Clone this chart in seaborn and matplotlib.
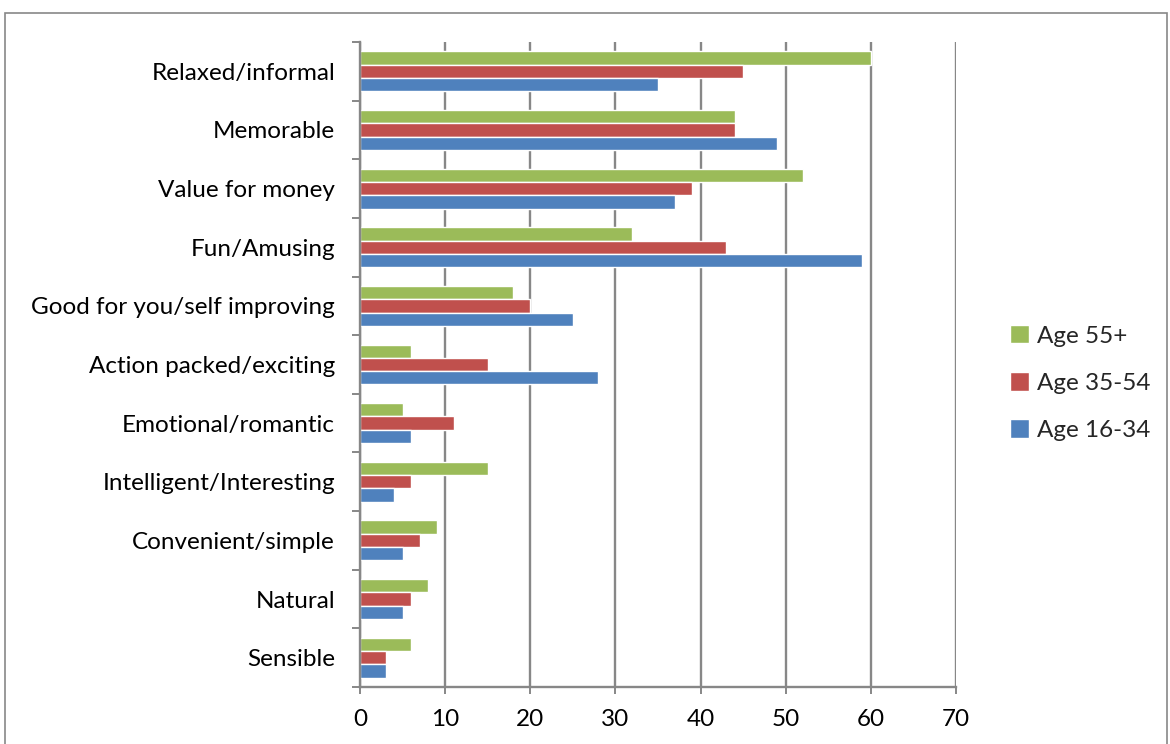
import numpy as np
import pandas as pd
import seaborn as sns
import matplotlib.pyplot as plt
from matplotlib.patches import Patch, Rectangle

categories = ["Relaxed/informal", "Memorable", "Value for money", "Fun/Amusing",
              "Good for you/self improving", "Action packed/exciting",
              "Emotional/romantic", "Intelligent/Interesting",
              "Convenient/simple", "Natural", "Sensible"]
age_55 = [60, 44, 52, 32, 18, 6, 5, 15, 9, 8, 6]
age_35 = [45, 44, 39, 43, 20, 15, 11, 6, 7, 6, 3]
age_16 = [35, 49, 37, 59, 25, 28, 6, 4, 5, 5, 3]
groups = ["Age 55+", "Age 35-54", "Age 16-34"]
colors = ["#9BBB59", "#C0504D", "#4F81BD"]
xticks = [0, 10, 20, 30, 40, 50, 60, 70]

rows = []
for g, vals in zip(groups, [age_55, age_35, age_16]):
    for c, v in zip(categories, vals):
        rows.append({"category": c, "group": g, "value": v})
df = pd.DataFrame(rows)

sns.set_theme(style="white")
plt.rcParams['font.family'] = ['Lato', 'DejaVu Sans']
grey = "#878787"
fs = 17.5

fig = plt.figure(figsize=(11.7, 7.44), dpi=100)
# outer chart border
fig.patches.append(Rectangle((5 / 1170, -0.1), 1162 / 1170, 1.1 - 13 / 744,
                             transform=fig.transFigure, fill=False,
                             edgecolor=grey, lw=1.2))
ax = fig.add_axes([360 / 1170, 1 - 687 / 744, (956 - 360) / 1170, (687 - 42) / 744])

sns.barplot(data=df, x="value", y="category", hue="group", hue_order=groups,
            order=categories, palette=colors, orient="h", width=0.68,
            saturation=1, ax=ax, legend=False)

ax.set_xlim(0, 70)
ax.set_xticks(xticks)
ax.set_xlabel("")
ax.set_ylabel("")
ax.grid(axis="x", color=grey, lw=1.7)
ax.set_axisbelow(True)
for s in ["top", "right"]:
    ax.spines[s].set_visible(False)
for s in ["left", "bottom"]:
    ax.spines[s].set_color(grey)
    ax.spines[s].set_linewidth(1.7)

ax.tick_params(axis="x", direction="out", length=5, width=1.4, color=grey,
               pad=11, labelsize=fs, labelcolor="black", bottom=True)
ax.tick_params(axis="y", which="major", length=0, pad=18, labelsize=fs,
               labelcolor="black")
ax.set_yticks(np.arange(-0.5, len(categories), 1), minor=True)
ax.tick_params(axis="y", which="minor", direction="out", length=6, width=1.4,
               color=grey, left=True)

handles = [Patch(facecolor=c, label=g) for g, c in zip(groups, colors)]
fig.legend(handles=handles, loc="upper left",
           bbox_to_anchor=(988 / 1170, 1 - 303 / 744), frameon=False,
           fontsize=fs, handlelength=0.8, handleheight=0.8,
           handletextpad=0.3, labelspacing=1.05)

fig.savefig("out.png", dpi=100)
